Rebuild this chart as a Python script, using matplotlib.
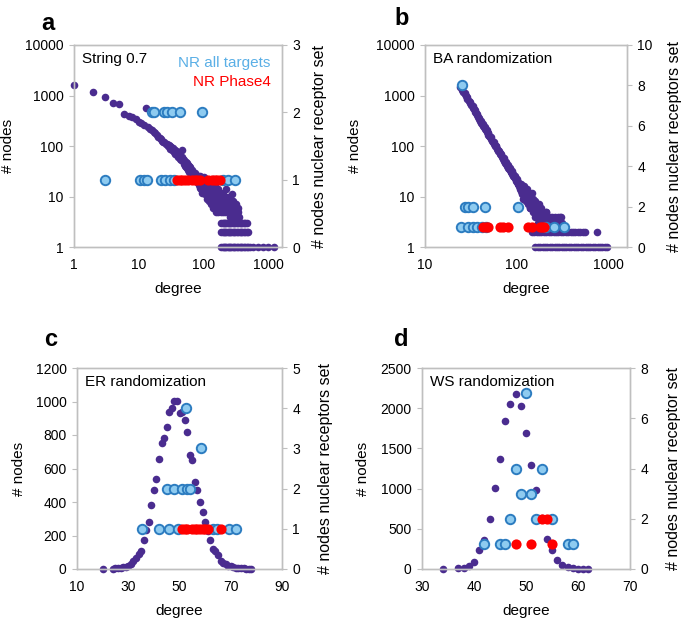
import matplotlib
matplotlib.use('Agg')
import matplotlib.pyplot as plt

plt.rcParams['font.family'] = ['Liberation Sans', 'DejaVu Sans']

PURPLE = '#4a2c8f'
BLUE_FACE = '#8ecbf0'
BLUE_EDGE = '#2c7cc0'
RED = '#ff0000'
GRAY = '#bfbfbf'

# ---- panel a: String 0.7 ----
a_deg = [1, 2, 3, 4, 5, 6, 7, 8, 9, 10, 11, 12, 13, 14, 15, 16, 17, 18, 19, 20,
         21, 22, 23, 24, 25, 26, 27, 28, 29, 30, 31, 32, 33, 34, 35, 36, 37, 38, 39, 40,
         41, 42, 43, 44, 45, 46, 47, 48, 49, 50, 51, 52, 53, 54, 55, 56, 57, 58, 59, 60,
         62, 64, 66, 68, 70, 72, 74, 76, 78, 80, 82, 84, 86, 88, 90, 92, 94, 96, 98, 100,
         103, 106, 109, 112, 115, 118, 121, 124, 127, 130, 133, 136, 139, 142, 145, 148,
         151, 155, 159, 163, 167, 171, 175, 180, 185, 190, 195, 200, 206, 212, 218, 224,
         230, 236, 242, 248, 255, 262, 270, 278, 286, 295, 305, 315, 325, 337, 350]
a_cnt = [1620, 1190, 950, 720, 680, 440, 400, 375, 345, 300, 285, 262, 570, 240, 220, 205, 190, 178, 165, 150,
         145, 138, 128, 122, 118, 108, 112, 98, 104, 100, 88, 96, 82, 90, 76, 84, 70, 78, 66, 72,
         60, 68, 56, 63, 52, 60, 83, 50, 56, 44, 52, 41, 49, 38, 46, 36, 43, 33, 40, 31,
         38, 28, 34, 25, 31, 22, 29, 20, 27, 19, 25, 17, 24, 15, 26, 14, 22, 12, 20, 13,
         24, 11, 19, 9, 17, 10, 20, 8, 15, 7, 13, 9, 22, 6, 12, 8,
         16, 5, 11, 7, 14, 5, 9, 6, 12, 5, 8, 11, 6, 9, 5, 14,
         7, 5, 10, 6, 4, 8, 5, 11, 6, 4, 7, 5, 4, 6, 4]
a_deg2 = [61, 63, 65, 67, 69, 71, 73, 75, 77, 79, 81, 83, 85, 87, 89, 91, 93, 95, 97, 99,
          101, 104, 107, 110, 113, 116, 119, 122, 125, 128, 131, 134, 137, 140, 143, 146,
          150, 153, 157, 161, 165, 169, 173, 177, 182, 188, 193, 198, 203, 209, 215, 221,
          227, 233, 239, 245, 252, 259, 266, 274, 282, 290, 300, 310, 320, 331, 343]
a_cnt2 = [35, 31, 29, 30, 27, 26, 24, 23, 22, 23, 20, 21, 19, 20, 18, 17, 18, 16, 15, 17,
          16, 14, 15, 13, 12, 14, 11, 12, 10, 11, 10, 15, 8, 11, 9, 13,
          7, 10, 8, 9, 6, 10, 7, 8, 9, 7, 6, 9, 5, 8, 7, 6,
          9, 5, 7, 8, 5, 6, 7, 4, 8, 5, 6, 5, 7, 5, 5]
a_row3 = [190, 198, 207, 216, 226, 236, 247, 258, 270, 283, 297, 312, 328, 345, 363,
          382, 402, 424, 447, 470]
a_row2 = [190, 198, 207, 216, 226, 236, 247, 258, 270, 283, 297, 312, 328, 345, 363,
          382, 402, 424, 447, 470, 495]
a_row1 = [190, 198, 207, 216, 226, 236, 247, 258, 270, 283, 297, 312, 328, 345, 363,
          382, 402, 424, 447, 470, 495, 520, 590, 700, 840, 1000, 1220]
a_nr_deg = [3, 10.5, 12, 13.3, 22, 25.5, 30.5, 35, 16, 17.2, 24.6, 27.1, 32.4, 43.5, 94,
            203, 243, 308]
a_nr_val = [1, 1, 1, 1, 1, 1, 1, 1, 2, 2, 2, 2, 2, 2, 2, 1, 1, 1]
a_ph_deg = [39, 43, 47, 52, 58, 66, 74, 80, 88, 118, 134, 150, 165, 182]
a_ph_val = [1, 1, 1, 1, 1, 1, 1, 1, 1, 1, 1, 1, 1, 1]

# ---- panel b: BA randomization ----
b_deg = [24, 25, 26, 27, 28, 29, 30, 31, 32, 33, 34, 35, 36, 37, 38, 39, 40, 41, 42, 43,
         44, 45, 46, 47, 48, 49, 50, 52, 54, 56, 58, 60, 62, 64, 66, 68, 70, 72, 74, 76,
         78, 80, 82, 84, 86, 88, 90, 92, 94, 96, 98, 100, 102, 104, 106, 108, 110,
         112, 114, 116, 118, 120, 122, 124, 126, 128, 130, 132, 134, 136, 138, 140, 142,
         145, 148, 151, 154, 157, 160, 163, 166, 170, 174, 178, 182, 186, 190, 195, 200,
         205, 210, 215, 221, 228, 235, 245, 258, 270, 284, 297, 310]
b_cnt = [1480, 1400, 1200, 1130, 960, 930, 790, 760, 640, 620, 530, 520, 445, 440, 375, 365, 318, 315, 275, 272,
         238, 236, 205, 204, 180, 178, 158, 148, 126, 120, 100, 98, 82, 81, 68, 68, 58, 57, 49, 49,
         42, 42, 36, 36, 31, 32, 27, 28, 24, 25, 21, 22, 19, 18, 17, 15, 16,
         18, 11, 13, 9, 16, 10, 12, 8, 11, 14, 7, 9, 12, 6, 10, 8,
         12, 6, 9, 5, 7, 8, 5, 6, 4, 7, 5, 4, 6, 3, 5, 4,
         3, 5, 3, 4, 3, 3, 4, 3, 3, 4, 4, 3]
b_deg2 = [25, 27, 29, 31, 33, 35, 37, 39, 41, 43, 45, 47, 49, 51, 53, 55, 57, 59, 61, 63,
          65, 67, 69, 71, 73, 75, 77, 79, 81, 83, 85, 87, 89, 91, 93, 95, 97, 99, 101, 103,
          105, 107, 109, 111, 113, 115, 117, 119, 121, 123, 125, 127, 129, 131, 133, 135,
          137, 139, 141, 144, 147, 150, 153, 156, 159, 162, 165, 168, 172, 176, 180, 184,
          188, 193, 198, 203, 208, 213, 219, 225, 232, 240, 250, 262, 275, 290, 305]
b_cnt2 = [1300, 1050, 850, 700, 570, 480, 405, 340, 290, 250, 215, 190, 168, 150, 135, 122, 108, 98, 88, 79,
          73, 67, 60, 56, 51, 47, 44, 40, 37, 35, 33, 30, 28, 26, 25, 23, 22, 20, 19, 18,
          16, 17, 14, 13, 15, 12, 14, 11, 13, 9, 11, 10, 8, 12, 9, 7,
          10, 8, 6, 9, 7, 5, 8, 6, 4, 7, 5, 6, 3, 5, 4, 3,
          5, 4, 3, 4, 5, 3, 4, 3, 4, 3, 3, 4, 3, 3, 4]
b_row2 = [146, 155, 165, 175, 186, 198, 210, 223, 237, 252, 268, 285, 303, 322, 342,
          363, 386, 410, 436, 463, 492, 523, 556, 741]
b_row1 = [160, 170, 180, 191, 203, 216, 229, 243, 258, 274, 291, 309, 328, 348, 370,
          393, 417, 443, 470, 499, 530, 563, 598, 635, 674, 716, 760, 807, 857, 910, 955]
b_nr_deg = [25, 27.3, 29.7, 33.6, 45, 104, 24.5, 29.5, 33, 37, 42, 46, 210, 255, 330]
b_nr_val = [8, 2, 2, 2, 2, 2, 1, 1, 1, 1, 1, 1, 1, 1, 1]
b_ph_deg = [43, 46, 48, 65, 70, 80, 133, 145, 178, 190, 200]
b_ph_val = [1, 1, 1, 1, 1, 1, 1, 1, 1, 1, 1]

# ---- panel c: ER randomization ----
c_deg = [20, 24, 25, 26, 27, 28, 29, 30, 31, 32, 33, 34, 35, 36, 37, 38, 39, 40, 41, 42,
         43, 44, 45, 46, 47, 48, 49, 50, 51, 52, 53, 54, 55, 56, 57, 58, 59, 60, 61, 62,
         63, 64, 65, 66, 67, 68, 69, 70, 71, 72, 73, 74, 75, 76, 77, 78]
c_cnt = [1, 2, 3, 4, 6, 9, 14, 20, 32, 45, 66, 90, 110, 175, 230, 280, 385, 470, 535, 655,
         755, 785, 845, 935, 960, 1005, 1005, 930, 940, 890, 820, 680, 650, 520, 470, 400, 340, 280, 225, 175,
         120, 110, 85, 50, 38, 28, 20, 16, 12, 8, 5, 4, 3, 2, 1, 1]
c_nr_deg = [52.6, 58.4, 45, 48, 51, 53, 54, 35.5, 42, 46, 49.5, 63, 64.5, 69.5, 72]
c_nr_val = [4, 3, 2, 2, 2, 2, 2, 1, 1, 1, 1, 1, 1, 1, 1]
c_ph_deg = [51, 52, 53, 55, 56, 57, 58, 59, 60, 61, 66]
c_ph_val = [1, 1, 1, 1, 1, 1, 1, 1, 1, 1, 1]

# ---- panel d: WS randomization ----
d_deg = [34, 37, 38, 39, 40, 41, 42, 43, 44, 45, 46, 47, 48, 49, 50, 51, 52, 53, 54, 55,
         56, 57, 58, 59, 60, 61, 62]
d_cnt = [5, 8, 10, 37, 87, 240, 357, 626, 1007, 1372, 1837, 2052, 2181, 2031, 1691, 1298, 987, 640, 373, 232,
         108, 54, 25, 12, 4, 4, 4]
d_nr_deg = [50, 48, 53, 49, 51, 47, 52, 55, 42, 45, 46, 58, 59]
d_nr_val = [7, 4, 4, 3, 3, 2, 2, 2, 1, 1, 1, 1, 1]
d_ph_deg = [53, 54, 48, 51, 55]
d_ph_val = [2, 2, 1, 1, 1]

W, H = 685, 623
fig = plt.figure(figsize=(W / 100, H / 100), dpi=100)


def px_axes(l, t, r, b):
    return fig.add_axes([l / W, 1 - b / H, (r - l) / W, (b - t) / H])


def draw_panel(box, pts, nr_deg, nr_val, ph_deg, ph_val,
               xlim, ylim, rlim, rticks, logscale, xticks, yticks,
               letter, letter_xy, title, rlabel, lab_left, lab_right):
    ax = px_axes(*box)
    # purple: node counts per degree (plus the flat rows of 1-3 nodes)
    for pdeg, pcnt in pts:
        if not isinstance(pcnt, list):
            pcnt = [pcnt] * len(pdeg)
        ax.scatter(pdeg, pcnt, s=30, color=PURPLE, linewidths=0, zorder=2,
                   clip_on=False)
    if logscale:
        ax.set_xscale('log')
        ax.set_yscale('log')
    ax.set_xlim(*xlim)
    ax.set_ylim(*ylim)
    ax.set_xticks(xticks)
    ax.set_xticklabels([str(v) for v in xticks])
    ax.set_yticks(yticks)
    ax.set_yticklabels([str(v) for v in yticks])
    ax.minorticks_off()

    ax2 = ax.twinx()
    ax2.scatter(nr_deg, nr_val, s=46, facecolor=BLUE_FACE, edgecolor=BLUE_EDGE,
                linewidths=1.4, zorder=3, clip_on=False)
    ax2.scatter(ph_deg, ph_val, s=54, color=RED, linewidths=0, zorder=4,
                clip_on=False)
    ax2.set_ylim(*rlim)
    ax2.set_yticks(rticks)
    ax2.set_yticklabels([str(v) for v in rticks])
    ax2.minorticks_off()

    for a in (ax, ax2):
        for sp in a.spines.values():
            sp.set_color(GRAY)
            sp.set_linewidth(1.0)
    ax.tick_params(axis='y', direction='out', length=3.5, color=GRAY, labelsize=10, pad=4)
    ax.tick_params(axis='x', length=0, labelsize=10, pad=8)
    ax2.tick_params(axis='y', direction='out', length=3.5, color=GRAY, labelsize=10, pad=4)

    ax.set_xlabel('degree', fontsize=11, labelpad=7)
    ax.set_ylabel('# nodes', fontsize=11)
    ax.yaxis.set_label_coords(lab_left, 0.5)
    ax2.set_ylabel(rlabel, fontsize=11.5)
    ax2.yaxis.set_label_coords(lab_right, 0.5)

    ax.text(0.04, 0.965, title, transform=ax.transAxes, fontsize=11,
            ha='left', va='top')
    fig.text(letter_xy[0] / W, 1 - letter_xy[1] / H, letter, fontsize=17,
             fontweight='bold', ha='left', va='baseline')
    return ax


ax_a = draw_panel((74, 45, 282, 247),
                  [(a_deg, a_cnt), (a_deg2, a_cnt2), (a_row3, 3), (a_row2, 2), (a_row1, 1)],
                  a_nr_deg, a_nr_val, a_ph_deg, a_ph_val,
                  (1, 1640), (1, 10000), (0, 3), [0, 1, 2, 3], True,
                  [1, 10, 100, 1000], [1, 10, 100, 1000, 10000],
                  'a', (41, 30), 'String 0.7', '# nodes nuclear receptor set',
                  -0.285, 1.145)
ax_a.text(0.945, 0.911, 'NR all targets', transform=ax_a.transAxes, fontsize=11,
          color='#5aafe6', ha='right', va='center', zorder=5)
ax_a.text(0.945, 0.817, 'NR Phase4', transform=ax_a.transAxes, fontsize=11,
          color=RED, ha='right', va='center', zorder=5)

draw_panel((425, 45, 627, 247),
           [(b_deg, b_cnt), (b_deg2, b_cnt2), (b_row2, 2), (b_row1, 1)],
           b_nr_deg, b_nr_val, b_ph_deg, b_ph_val,
           (10, 1590), (1, 10000), (0, 10), [0, 2, 4, 6, 8, 10], True,
           [10, 100, 1000], [1, 10, 100, 1000, 10000],
           'b', (394, 25), 'BA randomization', '# nodes nuclear receptors set',
           -0.31, 1.2)

draw_panel((77, 368, 282, 569), [(c_deg, c_cnt)],
           c_nr_deg, c_nr_val, c_ph_deg, c_ph_val,
           (10, 90), (0, 1200), (0, 5), [0, 1, 2, 3, 4, 5], False,
           [10, 30, 50, 70, 90], [0, 200, 400, 600, 800, 1000, 1200],
           'c', (44, 346), 'ER randomization', '# nodes nuclear receptors set',
           -0.25, 1.175)

draw_panel((422, 368, 630, 569), [(d_deg, d_cnt)],
           d_nr_deg, d_nr_val, d_ph_deg, d_ph_val,
           (30, 70), (0, 2500), (0, 8), [0, 2, 4, 6, 8], False,
           [30, 40, 50, 60, 70], [0, 500, 1000, 1500, 2000, 2500],
           'd', (394, 346), 'WS randomization', '# nodes nuclear receptor set',
           -0.25, 1.175)

fig.savefig('out.png', dpi=100)
